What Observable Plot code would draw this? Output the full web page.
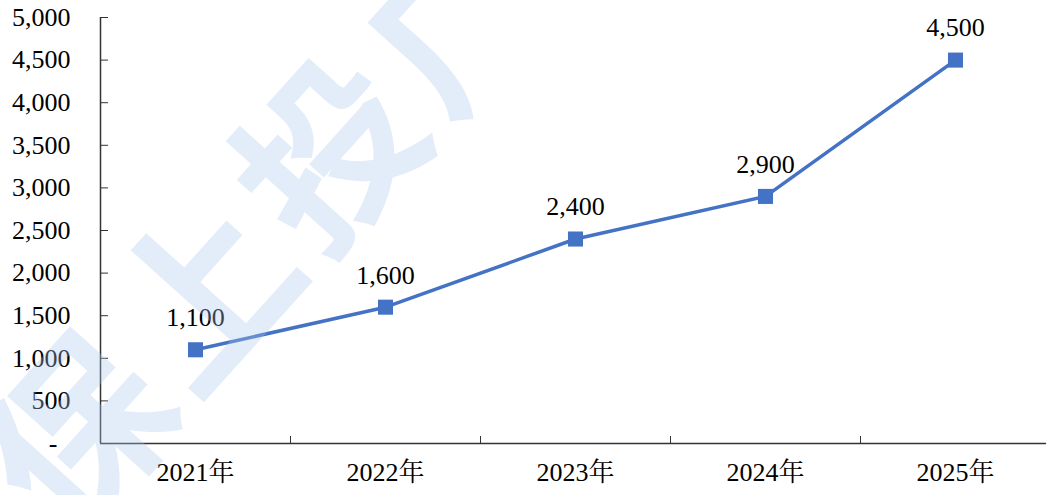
<!DOCTYPE html>
<html><head><meta charset="utf-8">
<script src="https://cdn.jsdelivr.net/npm/d3@7"></script>
<script src="https://cdn.jsdelivr.net/npm/@observablehq/plot@0.6"></script>
<style>
body{margin:0;background:#fff;}
#wrap{position:relative;width:1046px;height:495px;overflow:hidden;}
#wrap svg, #wrap svg text{font-family:"Liberation Serif","Noto Serif CJK SC",serif !important;}
#wm{position:absolute;left:262px;top:212px;transform:translate(-50%,-50%) rotate(-48deg);font-family:"Noto Sans CJK SC";font-weight:bold;font-size:178px;color:rgba(170,196,238,0.33);white-space:nowrap;pointer-events:none;letter-spacing:10px;line-height:1;}
</style></head><body><div id="wrap"><div id="wm">保上投广</div></div>
<script>
const years = ["2021年","2022年","2023年","2024年","2025年"];
const values = [1100, 1600, 2400, 2900, 4500];
const yTicks = [0, 500, 1000, 1500, 2000, 2500, 3000, 3500, 4000, 4500, 5000];

const data = years.map((year, i) => ({year, value: values[i], pos: i + 0.5}));
const labelPos = data.map(d => d.pos);
const boundaries = d3.range(1, years.length);
const fmt = d3.format(",");

const chart = Plot.plot({
  width: 1046, height: 495,
  marginLeft: 100, marginRight: -4, marginTop: 17, marginBottom: 52,
  x: {domain: [0, years.length], label: null},
  y: {domain: [0, 5000], label: null},
  style: {fontSize: "26px", color: "#000", background: "transparent"},
  marks: [
    Plot.axisY({ticks: yTicks, tickSize: 0, tickPadding: 30, label: null, tickFormat: v => v === 0 ? "-\u00a0\u00a0" : fmt(v)}),
    Plot.axisY({ticks: yTicks, tickSize: -8, label: null, tickFormat: () => "", stroke: "#333"}),
    Plot.axisX({ticks: labelPos, tickSize: 0, tickPadding: 19, label: null, tickFormat: p => years[Math.floor(p)]}),
    Plot.axisX({ticks: boundaries, tickSize: -7, label: null, tickFormat: () => "", stroke: "#333"}),
    Plot.ruleY([0], {stroke: "#333", strokeWidth: 1.5}),
    Plot.ruleX([0], {stroke: "#333", strokeWidth: 1.5}),
    Plot.line(data, {x: "pos", y: "value", stroke: "#4472C4", strokeWidth: 3.5}),
    Plot.dot(data, {x: "pos", y: "value", symbol: "square", r: 8.5, fill: "#4472C4", stroke: "none"}),
    Plot.text(data, {x: "pos", y: "value", text: d => fmt(d.value), dy: -32, fontSize: 26, fill: "#000"})
  ]
});
const wrap = document.getElementById("wrap");
wrap.insertBefore(chart, document.getElementById("wm"));
</script>
</body></html>
